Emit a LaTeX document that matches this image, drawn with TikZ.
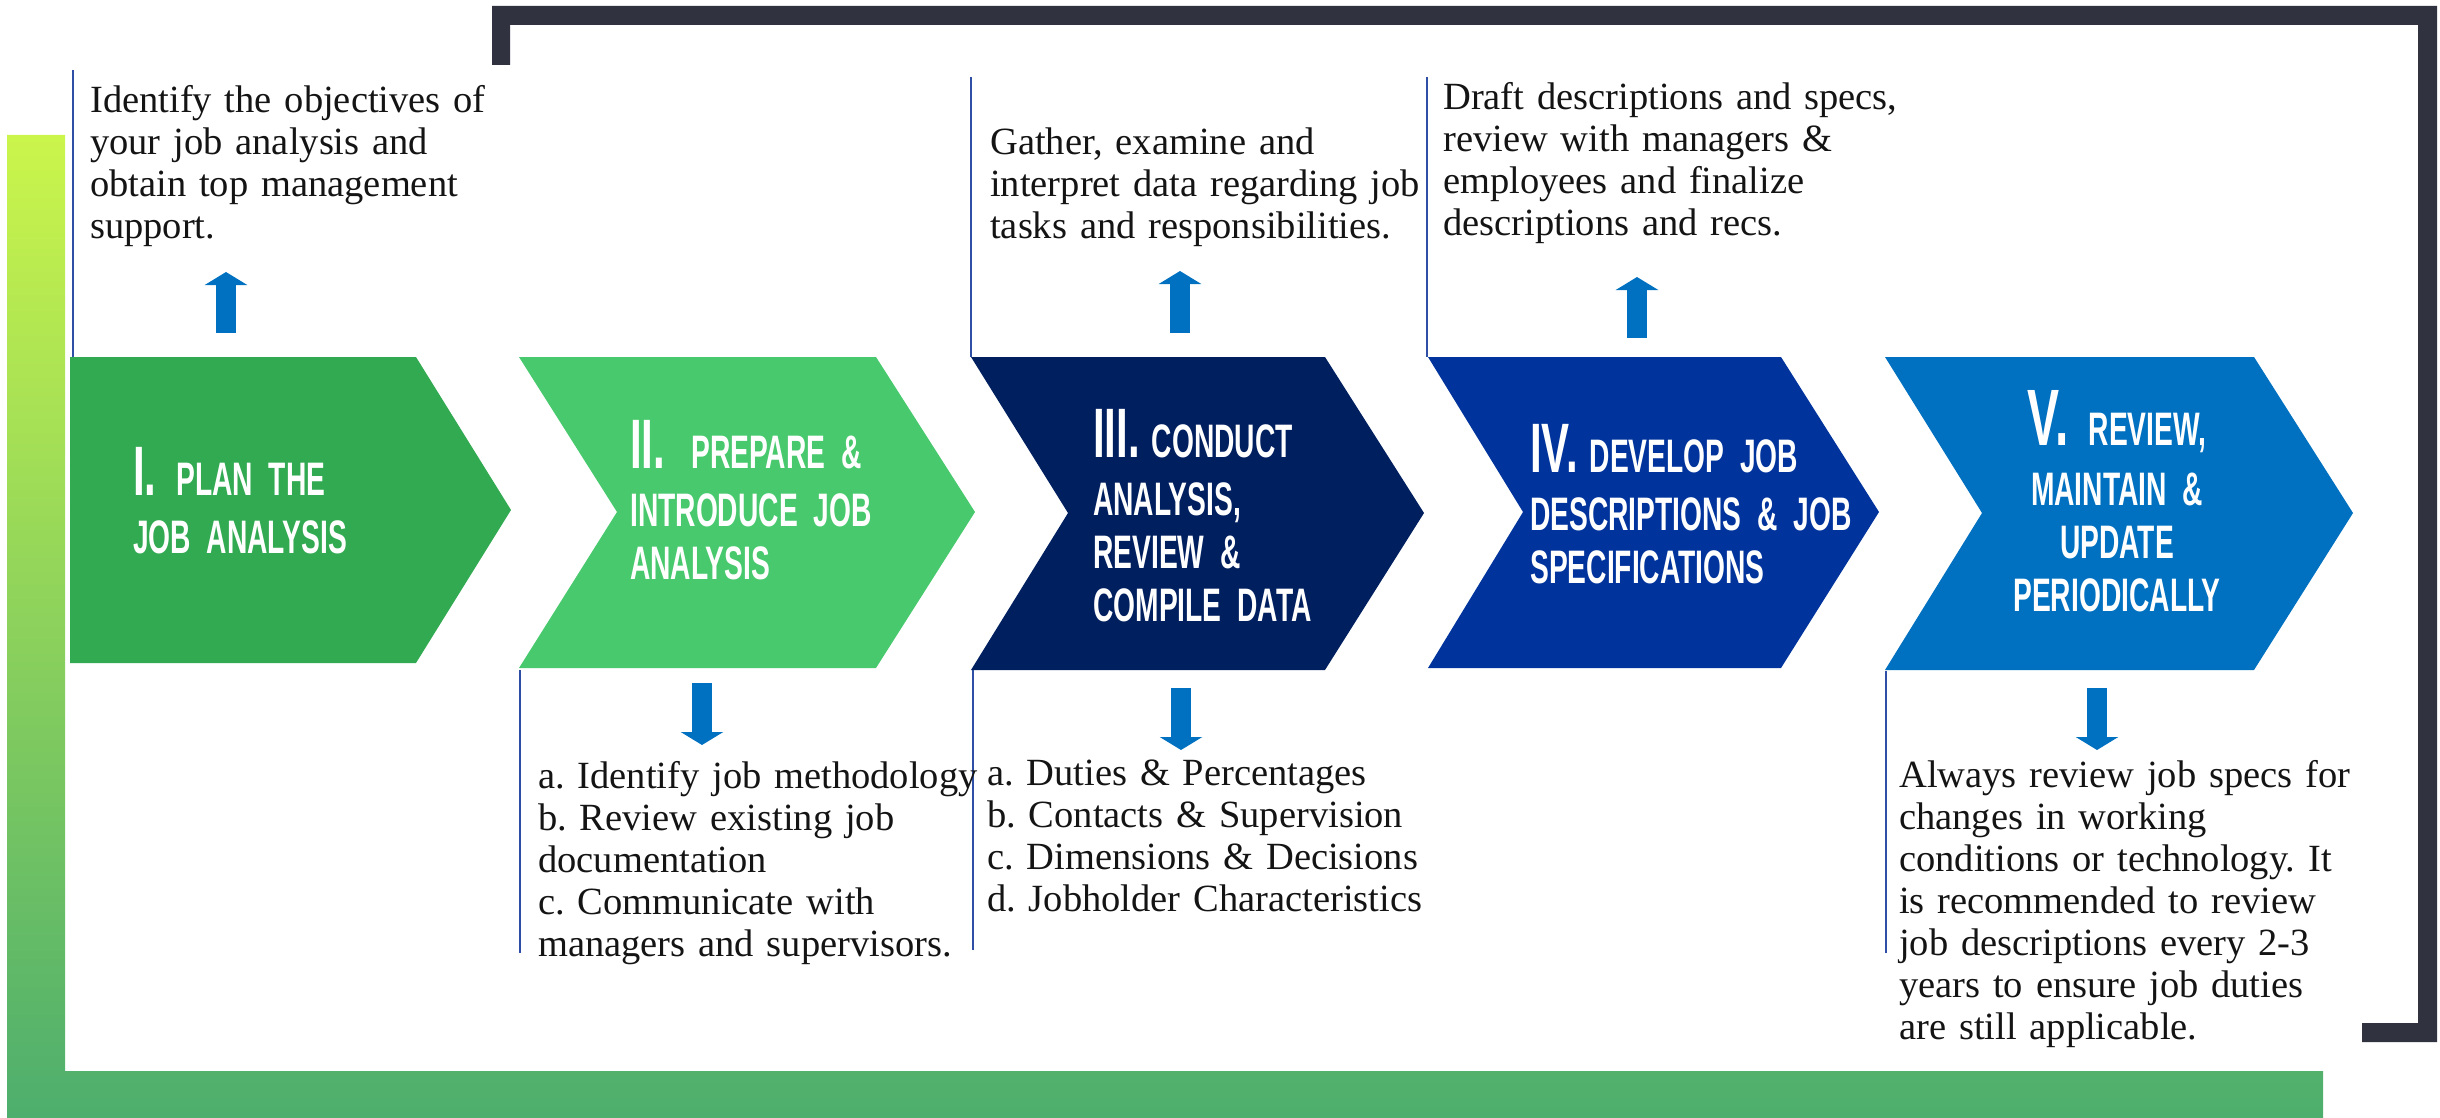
\documentclass[tikz,border=0pt]{standalone}
\usepackage{fontspec}
\setmainfont{Liberation Serif}
\newfontfamily\headfont[FakeStretch=0.6]{Liberation Sans}
\usetikzlibrary{arrows.meta}
\definecolor{cOne}{HTML}{32AA52}
\definecolor{cTwo}{HTML}{48C96D}
\definecolor{cThree}{HTML}{001F5F}
\definecolor{cFour}{HTML}{00349C}
\definecolor{cFive}{HTML}{0070C0}
\definecolor{arrowblue}{HTML}{0070C0}
\definecolor{framec}{HTML}{30333F}
\definecolor{blineC}{HTML}{2F4FA6}
\definecolor{gTop}{HTML}{CBF54B}
\definecolor{gMid}{HTML}{55F089}
\definecolor{gBot}{HTML}{4DAE6D}
\definecolor{txt}{HTML}{141414}
\frenchspacing
\begin{document}
\begin{tikzpicture}[x=1pt,y=-1pt,
  body/.style={inner sep=0pt, anchor=base west, text width=520pt, align=left, text=txt,
    font=\frenchspacing\fontsize{38.5}{42}\selectfont},
  head/.style={inner sep=0pt, anchor=base west, text width=420pt, align=left, text=white,
    font=\headfont\bfseries\fontsize{47}{53}\selectfont},
  headc/.style={head, anchor=base, text width=320pt, align=center},
  boxline/.style={draw=blineC, line width=2pt},
  blockarrow/.style={draw=arrowblue, line width=20pt, -{Triangle[width=42pt,length=13pt]}},
]
\useasboundingbox (0,0) rectangle (2440,1118);
% green L-shaped band
\shade[top color=gTop, middle color=gMid, bottom color=gBot]
  (7,135) -- (65,135) -- (65,1071) -- (2323,1071) -- (2323,1118) -- (7,1118) -- cycle;
% dark frame
\fill[framec] (492,6) -- (2437,6) -- (2437,1042) -- (2362,1042) -- (2362,1023)
  -- (2418,1023) -- (2418,25) -- (510,25) -- (510,65) -- (492,65) -- cycle;
% chevrons
\fill[cOne] (70,357) -- (416,357) -- (511,510) -- (416,663) -- (70,663) -- cycle;
\fill[cTwo] (519,357) -- (876,357) -- (975,512) -- (876,668) -- (519,668) -- (617,512) -- cycle;
\fill[cThree] (971,357) -- (1325,357) -- (1424,513) -- (1325,670) -- (971,670) -- (1068,513) -- cycle;
\fill[cFour] (1428,357) -- (1781,357) -- (1879,512) -- (1781,668) -- (1428,668) -- (1523,512) -- cycle;
\fill[cFive] (1885,357) -- (2254,357) -- (2353,513) -- (2254,670) -- (1885,670) -- (1982,513) -- cycle;
% text box borders
\draw[boxline] (73,70) -- (73,357);
\draw[boxline] (971,77) -- (971,357);
\draw[boxline] (1427,77) -- (1427,357);
\draw[boxline] (520,670) -- (520,953);
\draw[boxline] (973,670) -- (973,950);
\draw[boxline] (1886,671) -- (1886,953);
% headings
\node[head] (h1) at (133,495) {{\fontsize{70}{70}\selectfont I.}\hspace{20pt}PLAN THE\\[5pt]JOB ANALYSIS};
\node[head] (h2) at (630,468) {{\fontsize{70}{70}\selectfont II.}\hspace{26pt}PREPARE \&\\[5pt]INTRODUCE JOB\\ANALYSIS};
\node[head] (h3) at (1093,457) {{\fontsize{70}{70}\selectfont III.}\hspace{12pt}CONDUCT\\[5pt]ANALYSIS,\\REVIEW \&\\COMPILE DATA};
\node[head] (h4) at (1530,472) {{\fontsize{70}{70}\selectfont IV.}\hspace{12pt}DEVELOP JOB\\[5pt]DESCRIPTIONS \& JOB\\SPECIFICATIONS};
\node[headc] (h5) at (2117,445) {{\fontsize{80}{80}\selectfont V.}\hspace{20pt}REVIEW,\\[7pt]MAINTAIN \&\\UPDATE\\PERIODICALLY};
% descriptions
\node[body] (t1) at (90,113) {Identify the objectives of\\your job analysis and\\obtain top management\\support.};
\node[body] (t3a) at (990,155) {Gather, examine and\\interpret data regarding job\\tasks and responsibilities.};
\node[body] (t4a) at (1443,110) {Draft descriptions and specs,\\review with managers \&\\employees and finalize\\descriptions and recs.};
\node[body] (t2b) at (538,788) {a. Identify job methodology\\b. Review existing job\\documentation\\c. Communicate with\\managers and supervisors.};
\node[body] (t3b) at (987,785) {a. Duties \& Percentages\\b. Contacts \& Supervision\\c. Dimensions \& Decisions\\d. Jobholder Characteristics};
\node[body] (t5b) at (1899,787) {Always review job specs for\\changes in working\\conditions or technology. It\\is recommended to review\\job descriptions every 2-3\\years to ensure job duties\\are still applicable.};
% arrows
\coordinate (u1s) at (226,333); \coordinate (u1e) at (226,272);
\coordinate (u3s) at (1180,333); \coordinate (u3e) at (1180,271);
\coordinate (u4s) at (1637,338); \coordinate (u4e) at (1637,277);
\coordinate (d2s) at (702,683); \coordinate (d2e) at (702,745);
\coordinate (d3s) at (1181,688); \coordinate (d3e) at (1181,750);
\coordinate (d5s) at (2097,688); \coordinate (d5e) at (2097,750);
\draw[blockarrow] (u1s) -- (u1e);
\draw[blockarrow] (u3s) -- (u3e);
\draw[blockarrow] (u4s) -- (u4e);
\draw[blockarrow] (d2s) -- (d2e);
\draw[blockarrow] (d3s) -- (d3e);
\draw[blockarrow] (d5s) -- (d5e);
\end{tikzpicture}
\end{document}
